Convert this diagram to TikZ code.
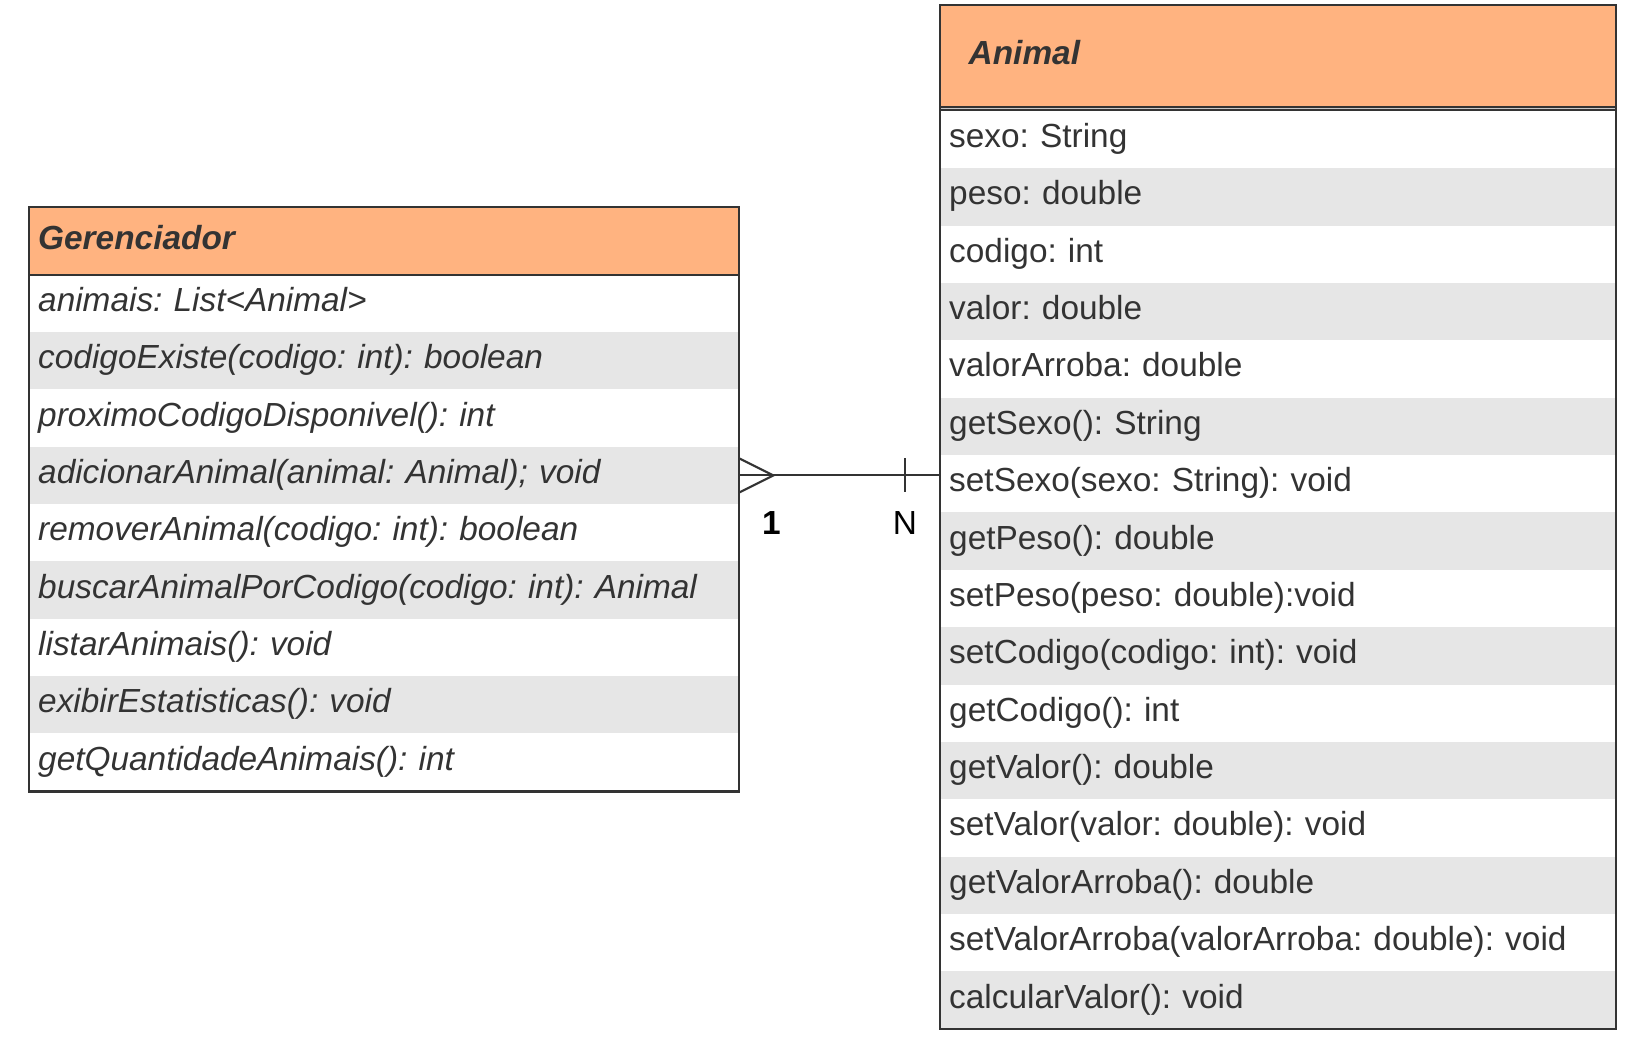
\documentclass[tikz,border=0pt]{standalone}
\usepackage{fontspec}
\setmainfont{Liberation Sans}
\usepackage{xcolor}
\usepackage{tikz}
\usetikzlibrary{positioning,calc}
\frenchspacing

\definecolor{headOrange}{HTML}{FFB380}
\definecolor{rowGray}{HTML}{E6E6E6}
\definecolor{sepGray}{HTML}{C8C8C8}
\definecolor{lineGray}{HTML}{333333}
\definecolor{textGray}{HTML}{333333}

\begin{document}
\begin{tikzpicture}[
    head/.style={rectangle, anchor=north west, fill=headOrange, inner ysep=0pt, text height=0.24cm, text depth=0.08cm, align=left, font=\fontsize{9.5}{11}\selectfont\bfseries\itshape, text=textGray},
    gerRow/.style={rectangle, anchor=north west, inner xsep=0.085cm, inner ysep=0pt, minimum height=0.574cm, text width=6.92cm, text height=0.24cm, text depth=0.08cm, align=left, font=\fontsize{9.5}{11}\selectfont\itshape, text=textGray},
    animalRow/.style={rectangle, anchor=north west, inner xsep=0.085cm, inner ysep=0pt, minimum height=0.574cm, text width=6.58cm, text height=0.24cm, text depth=0.08cm, align=left, font=\fontsize{9.5}{11}\selectfont, text=textGray},
    shade/.style={fill=rowGray},
    box/.style={draw=lineGray, line width=0.6pt},
    link/.style={draw=lineGray, line width=0.6pt},
    mult/.style={inner sep=0pt, font=\fontsize{9.5}{11}\selectfont, text=black}
]
\useasboundingbox (0,0) rectangle (16.37,-10.41);

% ============== GERENCIADOR ==============
\node[head, inner xsep=0.085cm, minimum height=0.67cm, text width=6.92cm] (gerHead) at (0.29,-2.07) {Gerenciador};

\node[gerRow] (gerAnimais) at (0.29,-2.740) {animais: List<Animal>};
\node[gerRow,shade] (gerCodigoExiste) at (0.29,-3.313) {codigoExiste(codigo: int): boolean};
\node[gerRow] (gerProximo) at (0.29,-3.887) {proximoCodigoDisponivel(): int};
\node[gerRow,shade] (gerAdicionar) at (0.29,-4.460) {adicionarAnimal(animal: Animal); void};
\node[gerRow] (gerRemover) at (0.29,-5.033) {removerAnimal(codigo: int): boolean};
\node[gerRow,shade] (gerBuscar) at (0.29,-5.607) {buscarAnimalPorCodigo(codigo: int): Animal};
\node[gerRow] (gerListar) at (0.29,-6.180) {listarAnimais(): void};
\node[gerRow,shade] (gerExibir) at (0.29,-6.753) {exibirEstatisticas(): void};
\node[gerRow] (gerQuantidade) at (0.29,-7.327) {getQuantidadeAnimais(): int};

\draw[box] (gerHead.north west) rectangle (gerQuantidade.south east);
\draw[box] (gerHead.south west) -- (gerHead.south east);

% ============== ANIMAL ==============
\node[head, inner xsep=0.28cm, minimum height=1.01cm, text width=6.19cm] (animalHead) at (9.40,-0.05) {Animal};

\node[animalRow] (animalSexo) at (9.40,-1.100) {sexo: String};
\node[animalRow,shade] (animalPeso) at (9.40,-1.674) {peso: double};
\node[animalRow] (animalCodigo) at (9.40,-2.248) {codigo: int};
\node[animalRow,shade] (animalValor) at (9.40,-2.821) {valor: double};
\node[animalRow] (animalValorArroba) at (9.40,-3.395) {valorArroba: double};
\node[animalRow,shade] (animalGetSexo) at (9.40,-3.969) {getSexo(): String};
\node[animalRow] (animalSetSexo) at (9.40,-4.543) {setSexo(sexo: String): void};
\node[animalRow,shade] (animalGetPeso) at (9.40,-5.116) {getPeso(): double};
\node[animalRow] (animalSetPeso) at (9.40,-5.690) {setPeso(peso: double):void};
\node[animalRow,shade] (animalSetCodigo) at (9.40,-6.264) {setCodigo(codigo: int): void};
\node[animalRow] (animalGetCodigo) at (9.40,-6.838) {getCodigo(): int};
\node[animalRow,shade] (animalGetValor) at (9.40,-7.411) {getValor(): double};
\node[animalRow] (animalSetValor) at (9.40,-7.985) {setValor(valor: double): void};
\node[animalRow,shade] (animalGetValorArroba) at (9.40,-8.559) {getValorArroba(): double};
\node[animalRow] (animalSetValorArroba) at (9.40,-9.133) {setValorArroba(valorArroba: double): void};
\node[animalRow,shade] (animalCalcular) at (9.40,-9.706) {calcularValor(): void};

\fill[sepGray] (animalHead.south west) rectangle (animalSexo.north east);
\draw[box] (animalHead.north west) rectangle (animalCalcular.south east);
\draw[box] (animalHead.south west) -- (animalHead.south east);
\draw[box] (animalSexo.north west) -- (animalSexo.north east);

% ============== RELATIONSHIPS ==============

% Gerenciador -> Animal
\draw[link] (gerAdicionar.east) -- (gerAdicionar.east -| animalSetSexo.west);

% crow's foot at Gerenciador
\draw[link] ($(gerAdicionar.east)+(0,0.17)$) -- ($(gerAdicionar.east)+(0.34,0)$) -- ($(gerAdicionar.east)+(0,-0.17)$);

% bar at Animal
\draw[link] ($(gerAdicionar.east -| animalSetSexo.west)+(-0.35,0.17)$) -- ++(0,-0.34);

% multiplicities
\node[mult] (multOne) at ($(gerAdicionar.east)+(0.32,-0.48)$) {\textbf{1}};
\node[mult] (multN) at ($(gerAdicionar.east -| animalSetSexo.west)+(-0.35,-0.48)$) {N};

\end{tikzpicture}
\end{document}
